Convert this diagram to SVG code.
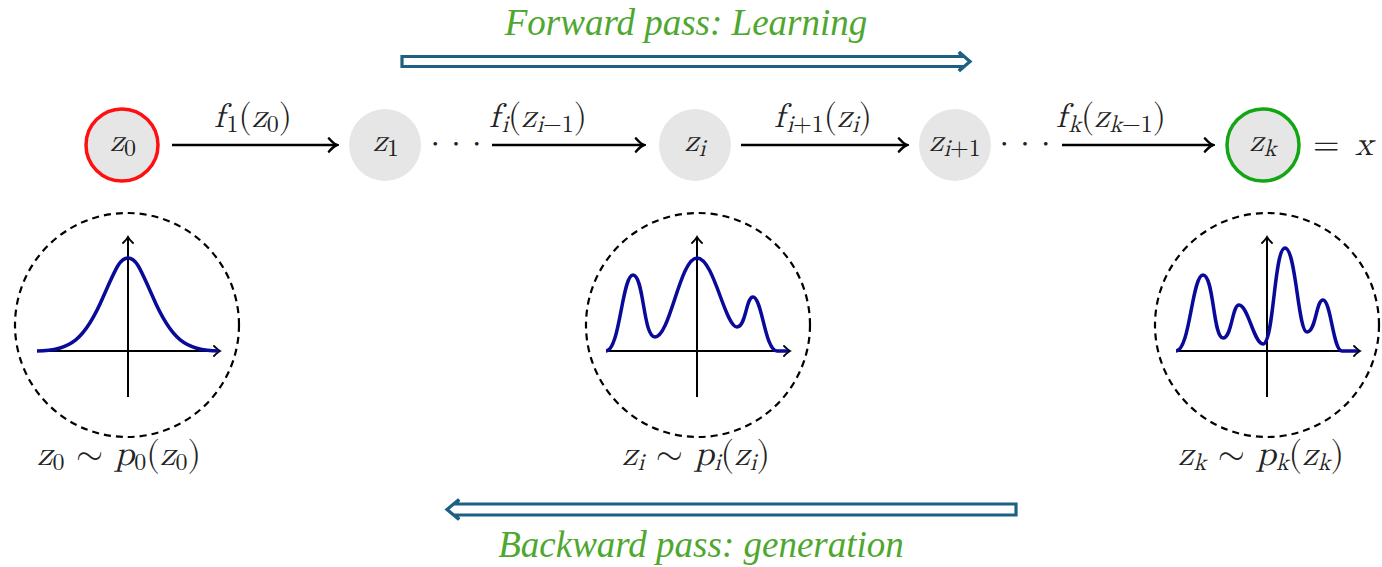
<svg xmlns="http://www.w3.org/2000/svg" width="1382" height="567" viewBox="0 0 1382 567">
<style>
.title{font-family:"Liberation Serif",serif;font-style:italic;font-size:37px;fill:#4ea72e}
.m{font-family:"Latin Modern Math","Liberation Serif",serif;font-size:34px;fill:#222}
.n{font-size:32px}
.b{font-size:35px}
.i{font-style:italic}
.s{font-size:24px}
.node{fill:#e6e6e6}
.conn{stroke:#000;stroke-width:2.6;fill:none}
.dash{fill:none;stroke:#000;stroke-width:2.2;stroke-dasharray:7,5}
.axis{stroke:#000;stroke-width:2;fill:none}
.curve{fill:none;stroke:#0a0a9a;stroke-width:3.5;stroke-linejoin:round}
.big{fill:#fff;stroke:#1d6083;stroke-width:3.2;stroke-linejoin:miter}
</style>
<defs>
<marker id="ah" viewBox="-10 -8 12 16" markerWidth="12" markerHeight="16" refX="0" refY="0" orient="auto" markerUnits="userSpaceOnUse">
<path d="M-8,-6.5 Q-3,-1 0,0 Q-3,1 -8,6.5" fill="none" stroke="#000" stroke-width="2.6" stroke-linecap="round"/>
</marker>
<marker id="sa" viewBox="-8 -6 10 12" markerWidth="10" markerHeight="12" refX="0" refY="0" orient="auto" markerUnits="userSpaceOnUse">
<path d="M-6,-5 Q-2,-1 0,0 Q-2,1 -6,5" fill="none" stroke="#000" stroke-width="1.8" stroke-linecap="round"/>
</marker>
</defs>

<g id="forward">
<text class="title" x="686" y="35" text-anchor="middle">Forward pass: Learning</text>
<path class="big" d="M402,56.5 L962,56.5 L959,52 L970,61.5 L959,71 L962,66.5 L402,66.5 Z"/>
</g>
<g id="backward">
<path class="big" d="M1016,504 L456,504 L459,499.5 L447,509.5 L459,519.5 L456,515 L1016,515 Z"/>
<text class="title" x="701" y="557" text-anchor="middle">Backward pass: generation</text>
</g>

<g id="connectors">
<line class="conn" x1="172" y1="145" x2="337" y2="145" marker-end="url(#ah)"/>
<line class="conn" x1="492" y1="145" x2="644" y2="145" marker-end="url(#ah)"/>
<line class="conn" x1="741" y1="145" x2="907" y2="145" marker-end="url(#ah)"/>
<line class="conn" x1="1062" y1="145" x2="1213" y2="145" marker-end="url(#ah)"/>
<text class="m" x="253" y="127" text-anchor="middle"><tspan class="i">f</tspan><tspan class="s" dx="2" dy="5">1</tspan><tspan dy="-5">(</tspan><tspan class="i">z</tspan><tspan class="s" dy="5">0</tspan><tspan dy="-5">)</tspan></text>
<text class="m" x="538" y="127" text-anchor="middle"><tspan class="i">f</tspan><tspan class="s i" dx="2" dy="5">i</tspan><tspan dy="-5">(</tspan><tspan class="i">z</tspan><tspan class="s" dy="5"><tspan class="i">i</tspan>−1</tspan><tspan dy="-5">)</tspan></text>
<text class="m" x="823" y="127" text-anchor="middle"><tspan class="i">f</tspan><tspan class="s" dx="2" dy="5"><tspan class="i">i</tspan>+1</tspan><tspan dy="-5">(</tspan><tspan class="i">z</tspan><tspan class="s i" dy="5">i</tspan><tspan dy="-5">)</tspan></text>
<text class="m" x="1111" y="127" text-anchor="middle"><tspan class="i">f</tspan><tspan class="s i" dx="2" dy="5">k</tspan><tspan dy="-5">(</tspan><tspan class="i">z</tspan><tspan class="s" dy="5"><tspan class="i">k</tspan>−1</tspan><tspan dy="-5">)</tspan></text>
<text class="m" x="456" y="152" text-anchor="middle" font-size="28">· · ·</text>
<text class="m" x="1025" y="152" text-anchor="middle" font-size="28">· · ·</text>
</g>

<g id="z0">
<circle cx="122" cy="145" r="36" class="node" stroke="#ff1010" stroke-width="3.5"/>
<text class="m n" x="123" y="151" text-anchor="middle"><tspan class="i">z</tspan><tspan class="s" dy="5">0</tspan></text>
</g>
<g id="z1">
<circle cx="385" cy="145" r="36" class="node"/>
<text class="m n" x="386" y="151" text-anchor="middle"><tspan class="i">z</tspan><tspan class="s" dy="5">1</tspan></text>
</g>
<g id="zi">
<circle cx="695" cy="145" r="36" class="node"/>
<text class="m n" x="695" y="151" text-anchor="middle"><tspan class="i">z</tspan><tspan class="s i" dy="5">i</tspan></text>
</g>
<g id="zi1">
<circle cx="955" cy="145" r="36" class="node"/>
<text class="m n" x="955" y="151" text-anchor="middle"><tspan class="i">z</tspan><tspan class="s" dy="5"><tspan class="i">i</tspan>+1</tspan></text>
</g>
<g id="zk">
<circle cx="1263" cy="145" r="36" class="node" stroke="#14a514" stroke-width="3.5"/>
<text class="m n" x="1263" y="151" text-anchor="middle"><tspan class="i">z</tspan><tspan class="s i" dy="5">k</tspan></text>
<text class="m" x="1313" y="155" font-size="37">=<tspan class="i" x="1355">x</tspan></text>
</g>

<g id="p0">
<circle class="dash" cx="127" cy="325" r="112"/>
<line class="axis" x1="37" y1="351" x2="220" y2="351" marker-end="url(#sa)"/>
<line class="axis" x1="128" y1="397" x2="128" y2="237" marker-end="url(#sa)"/>
<path class="curve" d="M37,351 C70,351 85,340 104,295 C116,268 120,258 128,258 C136,258 140,268 152,295 C171,340 186,351 219,351"/>
<text class="m b" x="119" y="465" text-anchor="middle"><tspan class="i">z</tspan><tspan class="s" dy="5">0</tspan><tspan dy="-5"> ∼ </tspan><tspan class="i">p</tspan><tspan class="s" dy="5">0</tspan><tspan dy="-5">(</tspan><tspan class="i">z</tspan><tspan class="s" dy="5">0</tspan><tspan dy="-5">)</tspan></text>
</g>

<g id="pi">
<circle class="dash" cx="698" cy="325" r="112"/>
<line class="axis" x1="606" y1="351" x2="790" y2="351" marker-end="url(#sa)"/>
<line class="axis" x1="697" y1="397" x2="697" y2="237" marker-end="url(#sa)"/>
<path class="curve" d="M606,351 C620,351 622,275 633,275 C644,275 643,337 655,337 C670,337 680,258 697,258 C714,258 725,327 737,327 C746,327 746,297 753,297 C762,297 765,351 777,351 L788,351"/>
<text class="m b" x="696" y="465" text-anchor="middle"><tspan class="i">z</tspan><tspan class="s i" dy="5">i</tspan><tspan dy="-5"> ∼ </tspan><tspan class="i">p</tspan><tspan class="s i" dy="5">i</tspan><tspan dy="-5">(</tspan><tspan class="i">z</tspan><tspan class="s i" dy="5">i</tspan><tspan dy="-5">)</tspan></text>
</g>

<g id="pk">
<circle class="dash" cx="1267" cy="325" r="112"/>
<line class="axis" x1="1176" y1="351" x2="1360" y2="351" marker-end="url(#sa)"/>
<line class="axis" x1="1267" y1="397" x2="1267" y2="237" marker-end="url(#sa)"/>
<path class="curve" d="M1176,351 C1190,351 1192,275 1203,275 C1214,275 1213,338 1223,338 C1232,338 1232,305 1239,305 C1248,305 1254,344 1263,344 C1274,344 1274,248 1285,248 C1296,248 1298,332 1307,332 C1316,332 1316,300 1323,300 C1331,300 1333,351 1342,351 L1358,351"/>
<text class="m b" x="1261" y="465" text-anchor="middle"><tspan class="i">z</tspan><tspan class="s i" dy="5">k</tspan><tspan dy="-5"> ∼ </tspan><tspan class="i">p</tspan><tspan class="s i" dy="5">k</tspan><tspan dy="-5">(</tspan><tspan class="i">z</tspan><tspan class="s i" dy="5">k</tspan><tspan dy="-5">)</tspan></text>
</g>
</svg>
